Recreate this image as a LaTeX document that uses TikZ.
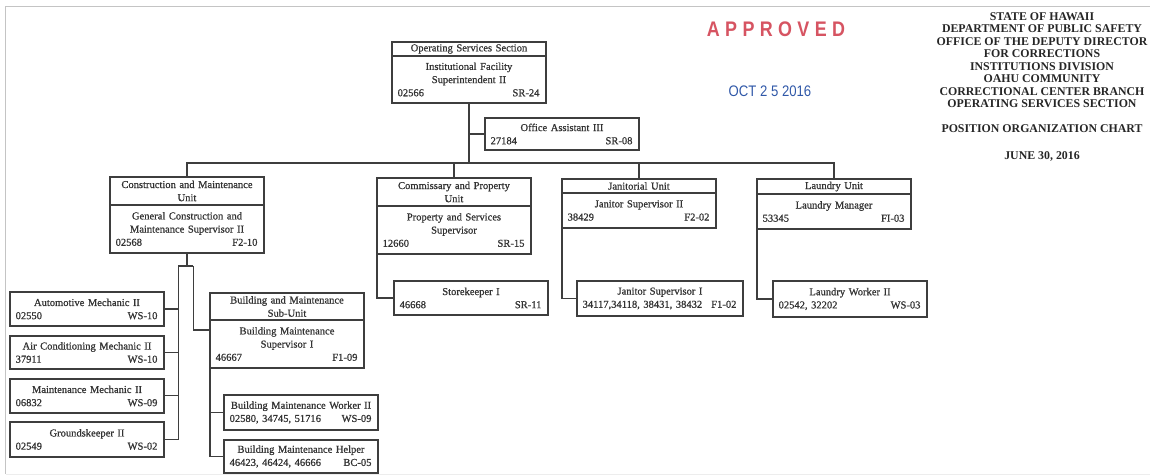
\documentclass[tikz,border=0pt]{standalone}
\usepackage{fontspec}
\setmainfont{Liberation Serif}
\newfontfamily\boxfam[FakeBold=0.8]{Liberation Serif}
\newfontfamily\stampfont[LetterSpace=30]{Liberation Sans}
\newfontfamily\datefont{Liberation Sans}
\usepackage{graphicx}
\usetikzlibrary{positioning, calc}
\definecolor{inkgrey}{RGB}{62, 62, 62}
\definecolor{stampred}{RGB}{214, 84, 98}
\definecolor{stampblue}{RGB}{48, 88, 168}
\definecolor{framegrey}{RGB}{196, 196, 196}
\newcommand{\numln}[2]{\makebox[\linewidth]{\hspace{1.5pt}#1\hfill #2\hspace{2pt}}}
\newcommand{\boxfont}{\boxfam\fontsize{6.0}{7.5}\selectfont}

\begin{document}
\begin{tikzpicture}[x=0.02cm, y=-0.02cm,
      posbox/.style={draw=inkgrey, line width=0.8pt, outer sep=0pt, inner xsep=0.06cm, inner ysep=0pt, minimum width=3.08cm, text width=2.96cm, align=center, font=\boxfont, text=black!80, anchor=north west},
      lnk/.style={draw=inkgrey, line width=0.6pt}]
    \useasboundingbox (0,0) rectangle (1154,475);
    \draw[framegrey, line width=0.03cm] (5.5,474) |- (1150,6.5);
    \draw[framegrey!30, line width=0.03cm] (5.5,474.5) -- (1150,474.5);

    % stamps and title block
    \node[text=stampred] (approved) at (776,29) {\scalebox{0.85}[1]{\stampfont\bfseries\fontsize{12}{12}\selectfont APPROVED}};
    \node[text=stampblue] (stampdate) at (770,91) {\scalebox{0.86}[1]{\datefont\fontsize{8.7}{9}\selectfont OCT 2 5 2016}};
    \node[font=\bfseries\fontsize{6.75}{7.1}\selectfont, align=center, text=black!85] (title) at (1042,60)
      {STATE OF HAWAII\\DEPARTMENT OF PUBLIC SAFETY\\OFFICE OF THE DEPUTY DIRECTOR\\FOR CORRECTIONS\\INSTITUTIONS DIVISION\\OAHU COMMUNITY\\CORRECTIONAL CENTER BRANCH\\OPERATING SERVICES SECTION};
    \node[font=\bfseries\fontsize{6.75}{7.1}\selectfont, text=black!85] (chart) at (1042,129) {POSITION ORGANIZATION CHART};
    \node[font=\bfseries\fontsize{6.75}{7.1}\selectfont, text=black!85] (asof) at (1042,156) {JUNE 30, 2016};

    % section head
    \node[posbox, minimum height=0.28cm] (ops) at (392,42) {Operating Services Section};
    \node[posbox, below=0pt of ops, minimum height=0.94cm] (opsb) {Institutional Facility\\Superintendent II\\\numln{02566}{SR-24}};
    \node[posbox, minimum height=0.64cm] (oa) at (485,118) {Office Assistant III\\\numln{27184}{SR-08}};

    % units
    \node[posbox, minimum height=0.56cm] (cmu) at (110,177) {Construction and Maintenance\\Unit};
    \node[posbox, below=0pt of cmu, minimum height=0.96cm] (cmub) {General Construction and\\Maintenance Supervisor II\\\numln{02568}{F2-10}};
    \node[posbox, minimum height=0.56cm] (cpu) at (377,178) {Commissary and Property\\Unit};
    \node[posbox, below=0pt of cpu, minimum height=0.96cm] (cpub) {Property and Services\\Supervisor\\\numln{12660}{SR-15}};
    \node[posbox, minimum height=0.28cm] (jan) at (562,179) {Janitorial Unit};
    \node[posbox, below=0pt of jan, minimum height=0.70cm] (janb) {Janitor Supervisor II\\\numln{38429}{F2-02}};
    \node[posbox, minimum height=0.30cm] (lau) at (757,179) {Laundry Unit};
    \node[posbox, below=0pt of lau, minimum height=0.70cm] (laub) {Laundry Manager\\\numln{53345}{FI-03}};

    \node[posbox, minimum height=0.68cm] (sk) at (394,281) {Storekeeper I\\\numln{46668}{SR-11}};
    \node[posbox, minimum height=0.70cm, minimum width=3.32cm, text width=3.20cm] (js1) at (577,281) {Janitor Supervisor I\\\numln{34117,34118, 38431, 38432}{F1-02}};
    \node[posbox, minimum height=0.72cm] (lw) at (773,281) {Laundry Worker II\\\numln{02542, 32202}{WS-03}};

    % construction and maintenance staff
    \node[posbox, minimum height=0.68cm] (am) at (10,292) {Automotive Mechanic II\\\numln{02550}{WS-10}};
    \node[posbox, below=0.2cm of am, minimum height=0.66cm] (ac) {Air Conditioning Mechanic II\\\numln{37911}{WS-10}};
    \node[posbox, below=0.2cm of ac, minimum height=0.68cm] (mm) {Maintenance Mechanic II\\\numln{06832}{WS-09}};
    \node[posbox, below=0.18cm of mm, minimum height=0.70cm] (gk) {Groundskeeper II\\\numln{02549}{WS-02}};

    \node[posbox, minimum height=0.54cm] (bmu) at (210,293) {Building and Maintenance\\Sub-Unit};
    \node[posbox, below=0pt of bmu, minimum height=0.96cm] (bmub) {Building Maintenance\\Supervisor I\\\numln{46667}{F1-09}};
    \node[posbox, minimum height=0.70cm] (bw) at (224,395) {Building Maintenance Worker II\\\numln{02580, 34745, 51716}{WS-09}};
    \node[posbox, below=0.2cm of bw, minimum height=0.66cm] (bh) {Building Maintenance Helper\\\numln{46423, 46424, 46666}{BC-05}};

    % connectors
    \coordinate (busy) at (0,163);
    \coordinate (bus) at (opsb.south |- busy);
    \draw[lnk] (opsb.south) -- (bus);
    \draw[lnk] (oa.west) -- (oa.west -| opsb.south);
    \draw[lnk] (cmu.north) |- (bus) -| (lau.north);
    \draw[lnk] (cpu.north) -- (cpu.north |- bus);
    \draw[lnk] (jan.north) -- (jan.north |- bus);

    \draw[lnk] (cpub.south west) |- (sk.west);
    \draw[lnk] (janb.south west) |- (js1.west);
    \draw[lnk] (laub.south west) |- (lw.west);

    \coordinate (split) at ($(cmub.south)+(0,13)$);
    \coordinate (lsp) at ($(split)+(-8.5,0)$);
    \coordinate (rsp) at ($(split)+(6.5,0)$);
    \draw[lnk] (cmub.south) -- (split);
    \draw[lnk] (lsp) -- (rsp);
    \draw[lnk] (lsp) |- (gk.east);
    \foreach \n in {am, ac, mm}
      \draw[lnk] (\n.east) -- (\n.east -| lsp);
    \coordinate (bmujoin) at ($(bmub.north west)+(0,10)$);
    \draw[lnk] (rsp) |- (bmujoin);
    \draw[lnk] (bmub.south west) |- (bh.west);
    \draw[lnk] (bw.west) -- (bw.west -| bmub.south west);
  \end{tikzpicture}
\end{document}
